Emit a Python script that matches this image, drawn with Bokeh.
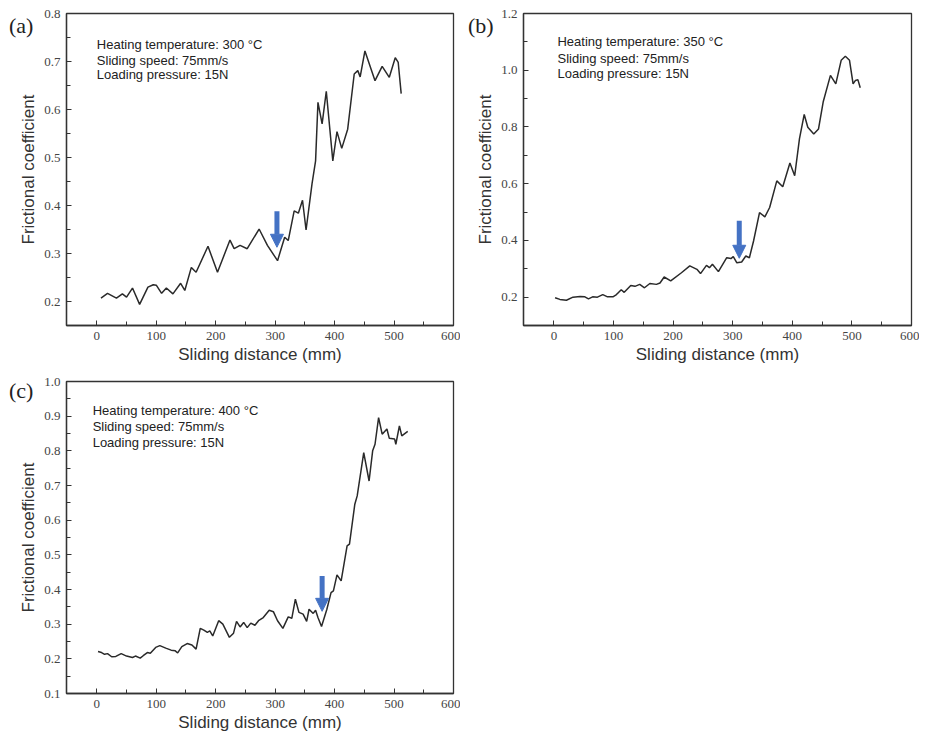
from bokeh.plotting import figure
from bokeh.models import FixedTicker, Arrow, NormalHead, ColumnDataSource, GridBox, Div
from bokeh.embed import file_html
from bokeh.resources import INLINE
from bokeh.core.properties import value

# ---------------- data ----------------
x_tick_labels = ["0", "100", "200", "300", "400", "500", "600"]
x_minor = [50, 150, 250, 350, 450, 550]

# Panel (a) 300 C
a_x = [7, 18, 33, 43, 50, 60, 72, 86, 95, 100, 109, 117, 128, 141, 148, 159, 167, 187, 203, 224, 231,
       241, 253, 273, 287, 304, 316, 322, 332, 339, 346, 352, 362, 368, 372, 379, 386, 397, 404,
       412, 422, 433, 439, 443, 451, 468, 480, 492, 502, 507, 512]
a_y = [0.207, 0.217, 0.207, 0.216, 0.209, 0.228, 0.194, 0.230, 0.235, 0.234, 0.217, 0.228, 0.216, 0.238,
       0.223, 0.271, 0.261, 0.315, 0.261, 0.328, 0.310, 0.317, 0.310, 0.351, 0.317, 0.285, 0.334,
       0.327, 0.389, 0.384, 0.411, 0.349, 0.445, 0.493, 0.615, 0.570, 0.638, 0.493, 0.554, 0.519,
       0.559, 0.674, 0.681, 0.668, 0.722, 0.660, 0.690, 0.667, 0.708, 0.698, 0.633]
a_ytick_labels = ["0.2", "0.3", "0.4", "0.5", "0.6", "0.7", "0.8"]
a_yminor = [0.25, 0.35, 0.45, 0.55, 0.65, 0.75]

# Panel (b) 350 C
b_x = [2, 10, 21, 32, 44, 52, 58, 65, 73, 82, 90, 99, 105, 113, 118, 129, 136, 144, 152, 161, 172,
       178, 185, 196, 214, 228, 240, 246, 256, 261, 266, 276, 290, 297, 301, 307, 315, 322, 328,
       335, 345, 354, 362, 374, 384, 396, 404, 412, 420, 426, 436, 444, 452, 464, 473, 482, 489,
       496, 502, 506, 510, 514]
b_y = [0.198, 0.192, 0.189, 0.200, 0.202, 0.201, 0.194, 0.201, 0.200, 0.209, 0.201, 0.201, 0.209,
       0.226, 0.217, 0.241, 0.238, 0.245, 0.233, 0.248, 0.245, 0.250, 0.271, 0.257, 0.286, 0.310,
       0.298, 0.283, 0.312, 0.304, 0.316, 0.290, 0.339, 0.336, 0.343, 0.321, 0.324, 0.345, 0.339,
       0.398, 0.498, 0.483, 0.516, 0.610, 0.589, 0.673, 0.628, 0.758, 0.844, 0.799, 0.775, 0.793,
       0.890, 0.982, 0.952, 1.035, 1.049, 1.035, 0.952, 0.964, 0.967, 0.938]
b_ytick_labels = ["0.2", "0.4", "0.6", "0.8", "1.0", "1.2"]
b_yminor = [0.3, 0.5, 0.7, 0.9, 1.1]

# Panel (c) 400 C
c_x = [2, 8, 13, 18, 25, 32, 41, 50, 60, 65, 73, 78, 85, 90, 99, 106, 116, 125, 132, 136, 143, 152,
       160, 167, 174, 180, 186, 190, 195, 205, 212, 223, 230, 235, 241, 247, 253, 259, 266, 272,
       280, 290, 297, 304, 313, 322, 328, 334, 340, 347, 353, 357, 364, 368, 372, 378, 387, 394,
       398, 404, 411, 421, 425, 434, 438, 449, 458, 464, 468, 474, 480, 488, 492, 501, 503, 509,
       513, 523]
c_y = [0.221, 0.218, 0.213, 0.215, 0.206, 0.207, 0.215, 0.208, 0.204, 0.208, 0.202, 0.209, 0.218,
       0.216, 0.233, 0.238, 0.231, 0.225, 0.223, 0.217, 0.235, 0.244, 0.240, 0.228, 0.288, 0.283,
       0.276, 0.281, 0.266, 0.310, 0.300, 0.262, 0.274, 0.308, 0.292, 0.305, 0.290, 0.303, 0.297,
       0.310, 0.319, 0.340, 0.336, 0.310, 0.288, 0.321, 0.317, 0.372, 0.334, 0.329, 0.308, 0.343,
       0.331, 0.340, 0.319, 0.293, 0.343, 0.391, 0.396, 0.442, 0.425, 0.526, 0.531, 0.646, 0.670,
       0.795, 0.713, 0.800, 0.819, 0.896, 0.848, 0.863, 0.836, 0.834, 0.819, 0.872, 0.843, 0.856]
c_ytick_labels = ["0.1", "0.2", "0.3", "0.4", "0.5", "0.6", "0.7", "0.8", "0.9", "1.0"]
c_yminor = [0.15, 0.25, 0.35, 0.45, 0.55, 0.65, 0.75, 0.85, 0.95]

# arrows (x, top, tip) per panel
arrow_x = [303, 311, 379]
arrow_top = [0.388, 0.469, 0.439]
arrow_tip = [0.313, 0.337, 0.337]

temps = ["300", "350", "400"]
letters = ["(a)", "(b)", "(c)"]

DARK = "#333333"


def make_panel(xs, ys, y_range, ytl, yminor, width, height, bl, br, bt, bb,
               temp, note_x, note_y, ax, atop, atip):
    p = figure(width=width, height=height, x_range=(-51, 600), y_range=y_range,
               output_backend="svg", toolbar_location=None,
               min_border_left=bl, min_border_right=br, min_border_top=bt, min_border_bottom=bb)
    p.grid.visible = False
    p.background_fill_color = "white"
    p.border_fill_color = "white"
    p.outline_line_color = DARK
    p.outline_line_width = 1.3
    p.outline_line_alpha = 1.0

    xt = [float(s) for s in x_tick_labels]
    yt = [float(s) for s in ytl]
    p.xaxis.ticker = FixedTicker(ticks=xt, minor_ticks=x_minor)
    p.yaxis.ticker = FixedTicker(ticks=yt, minor_ticks=yminor)
    p.xaxis.major_label_overrides = {t: s for t, s in zip(xt, x_tick_labels)}
    p.yaxis.major_label_overrides = {t: s for t, s in zip(yt, ytl)}

    for axis in (p.xaxis[0], p.yaxis[0]):
        axis.axis_line_color = DARK
        axis.axis_line_width = 1.3
        axis.major_tick_in = 5
        axis.major_tick_out = 0
        axis.minor_tick_in = 4
        axis.minor_tick_out = 0
        axis.major_tick_line_color = DARK
        axis.minor_tick_line_color = DARK
        axis.major_label_text_font = "Liberation Serif"
        axis.major_label_text_font_size = "13px"
        axis.major_label_text_color = "#444444"
        axis.axis_label_text_font = "Liberation Sans"
        axis.axis_label_text_font_size = "17px"
        axis.axis_label_text_font_style = "normal"
        axis.axis_label_text_color = DARK

    p.xaxis.axis_label = "Sliding distance (mm)"
    p.yaxis.axis_label = "Frictional coefficient"
    p.xaxis.major_label_standoff = 6
    p.xaxis.axis_label_standoff = 2
    p.yaxis.major_label_standoff = 6
    p.yaxis.axis_label_standoff = 3

    p.line(xs, ys, line_color="#2a2a2a", line_width=1.5)

    src = ColumnDataSource(dict(
        x=[note_x] * 3, y=note_y,
        t=["Heating temperature: %s \u00b0C" % temp, "Sliding speed: 75mm/s", "Loading pressure: 15N"]))
    p.text(x="x", y="y", text="t", source=src, text_font=value("Liberation Sans"),
           text_font_size="13px", text_baseline="middle", text_align="left", text_color="#222222")

    p.add_layout(Arrow(x_start=ax, y_start=atop, x_end=ax, y_end=atip,
                       line_color="#4472C4", line_width=5,
                       end=NormalHead(size=13, fill_color="#4472C4", line_color="#4472C4", line_width=1)))
    return p


def letter_div(text, left, top):
    html = ('<span style="position:relative; left:%dpx; top:%dpx; font-family:\'Liberation Serif\';'
            ' font-size:22px; line-height:24px; color:#222222;">%s</span>') % (left, top, text)
    return Div(text=html, width=50, height=50, styles={"background": "transparent"})


pa = make_panel(a_x, a_y, (0.15, 0.8), a_ytick_labels, a_yminor, 460, 370, 64, 7, 13, 45,
                temps[0], 0, [0.736, 0.703, 0.672], arrow_x[0], arrow_top[0], arrow_tip[0])
pb = make_panel(b_x, b_y, (0.1, 1.2), b_ytick_labels, b_yminor, 459, 370, 63, 8, 13, 45,
                temps[1], 6, [1.100, 1.043, 0.990], arrow_x[1], arrow_top[1], arrow_tip[1])
pc = make_panel(c_x, c_y, (0.1, 1.0), c_ytick_labels, c_yminor, 460, 364, 66, 6, 11, 41,
                temps[2], -7, [0.915, 0.869, 0.824], arrow_x[2], arrow_top[2], arrow_tip[2])

da = letter_div(letters[0], 4, 9)
db = letter_div(letters[1], 3, 9)
dc = letter_div(letters[2], 4, 4)

layout = GridBox(children=[(pa, 0, 0), (pb, 0, 1), (pc, 1, 0),
                           (da, 0, 0), (db, 0, 1), (dc, 1, 0)], spacing=0)

open("out.html", "w").write(file_html(layout, INLINE))
